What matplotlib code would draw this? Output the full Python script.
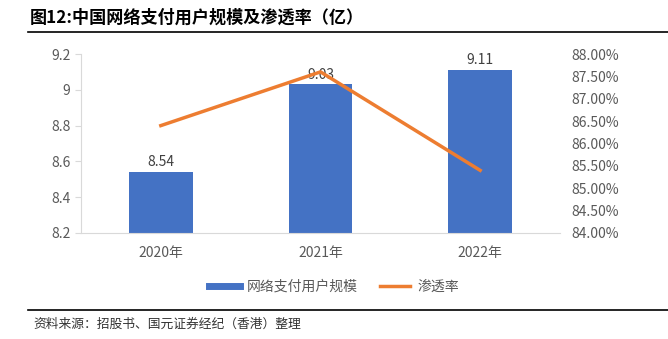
import numpy as np
import matplotlib.pyplot as plt
from matplotlib.lines import Line2D

plt.rcParams['font.family'] = ['Noto Sans CJK SC', 'DejaVu Sans']

# data
years = ['2020年', '2021年', '2022年']
users = [8.54, 9.03, 9.11]          # 网络支付用户规模 (亿)
penetration = [86.4, 87.6, 85.4]    # 渗透率 (%)

blue = '#4472C4'
orange = '#ED7D31'
grey = '#595959'

fig = plt.figure(figsize=(6.68, 3.39), dpi=100)
ax = fig.add_axes([81 / 668, 1 - 233 / 339, 479 / 668, 179 / 339])
x = np.arange(len(years))

bars = ax.bar(x, users, width=0.4, color=blue, zorder=2)
for xi, v in zip(x, users):
    ax.text(xi, v + 0.015, f'{v:.2f}', ha='center', va='bottom',
            fontsize=10, color='#404040')

ax.set_ylim(8.2, 9.2)
ax.set_yticks([8.2, 8.4, 8.6, 8.8, 9.0, 9.2])
ax.set_yticklabels(['8.2', '8.4', '8.6', '8.8', '9', '9.2'])
ax.set_xlim(-0.5, 2.5)
ax.set_xticks(x)
ax.set_xticklabels(years)
ax.tick_params(axis='y', colors='#d9d9d9', labelcolor=grey, labelsize=10, length=4)
ax.tick_params(axis='x', length=0, labelcolor=grey, labelsize=10, pad=9)
for s in ['top', 'right']:
    ax.spines[s].set_visible(False)
ax.spines['left'].set_color('#d9d9d9')
ax.spines['bottom'].set_color('#d9d9d9')

ax2 = ax.twinx()
ax2.plot(x, penetration, color=orange, lw=2.5, zorder=3)
ax2.set_ylim(84, 88)
ax2.set_yticks(np.arange(84, 88.01, 0.5))
ax2.set_yticklabels([f'{t:.2f}%' for t in np.arange(84, 88.01, 0.5)])
ax2.tick_params(axis='y', length=0, labelcolor=grey, labelsize=10, pad=8)
for s in ax2.spines.values():
    s.set_visible(False)

handles = [Line2D([0], [0], color=blue, lw=5),
           Line2D([0], [0], color=orange, lw=2.5)]
fig.legend(handles, ['网络支付用户规模', '渗透率'], loc='center',
           bbox_to_anchor=(0.5, 1 - 287 / 339), ncol=2, frameon=False,
           fontsize=10, labelcolor=grey, handlelength=2.2, handletextpad=0.5,
           columnspacing=1.6)

# title & source
fig.text(30 / 668, 1 - 18 / 339, '图12:中国网络支付用户规模及渗透率（亿）',
         fontsize=12.3, fontweight='bold', va='center', ha='left')
fig.add_artist(Line2D([28 / 668, 1], [1 - 32 / 339] * 2, color='black', lw=1.2))
fig.add_artist(Line2D([28 / 668, 1], [1 - 310 / 339] * 2, color='black', lw=1.2))
fig.text(33 / 668, 1 - 324 / 339, '资料来源：招股书、国元证券经纪（香港）整理',
         fontsize=9.2, va='center', ha='left', color='#333333')

fig.savefig('out.png', dpi=100)
